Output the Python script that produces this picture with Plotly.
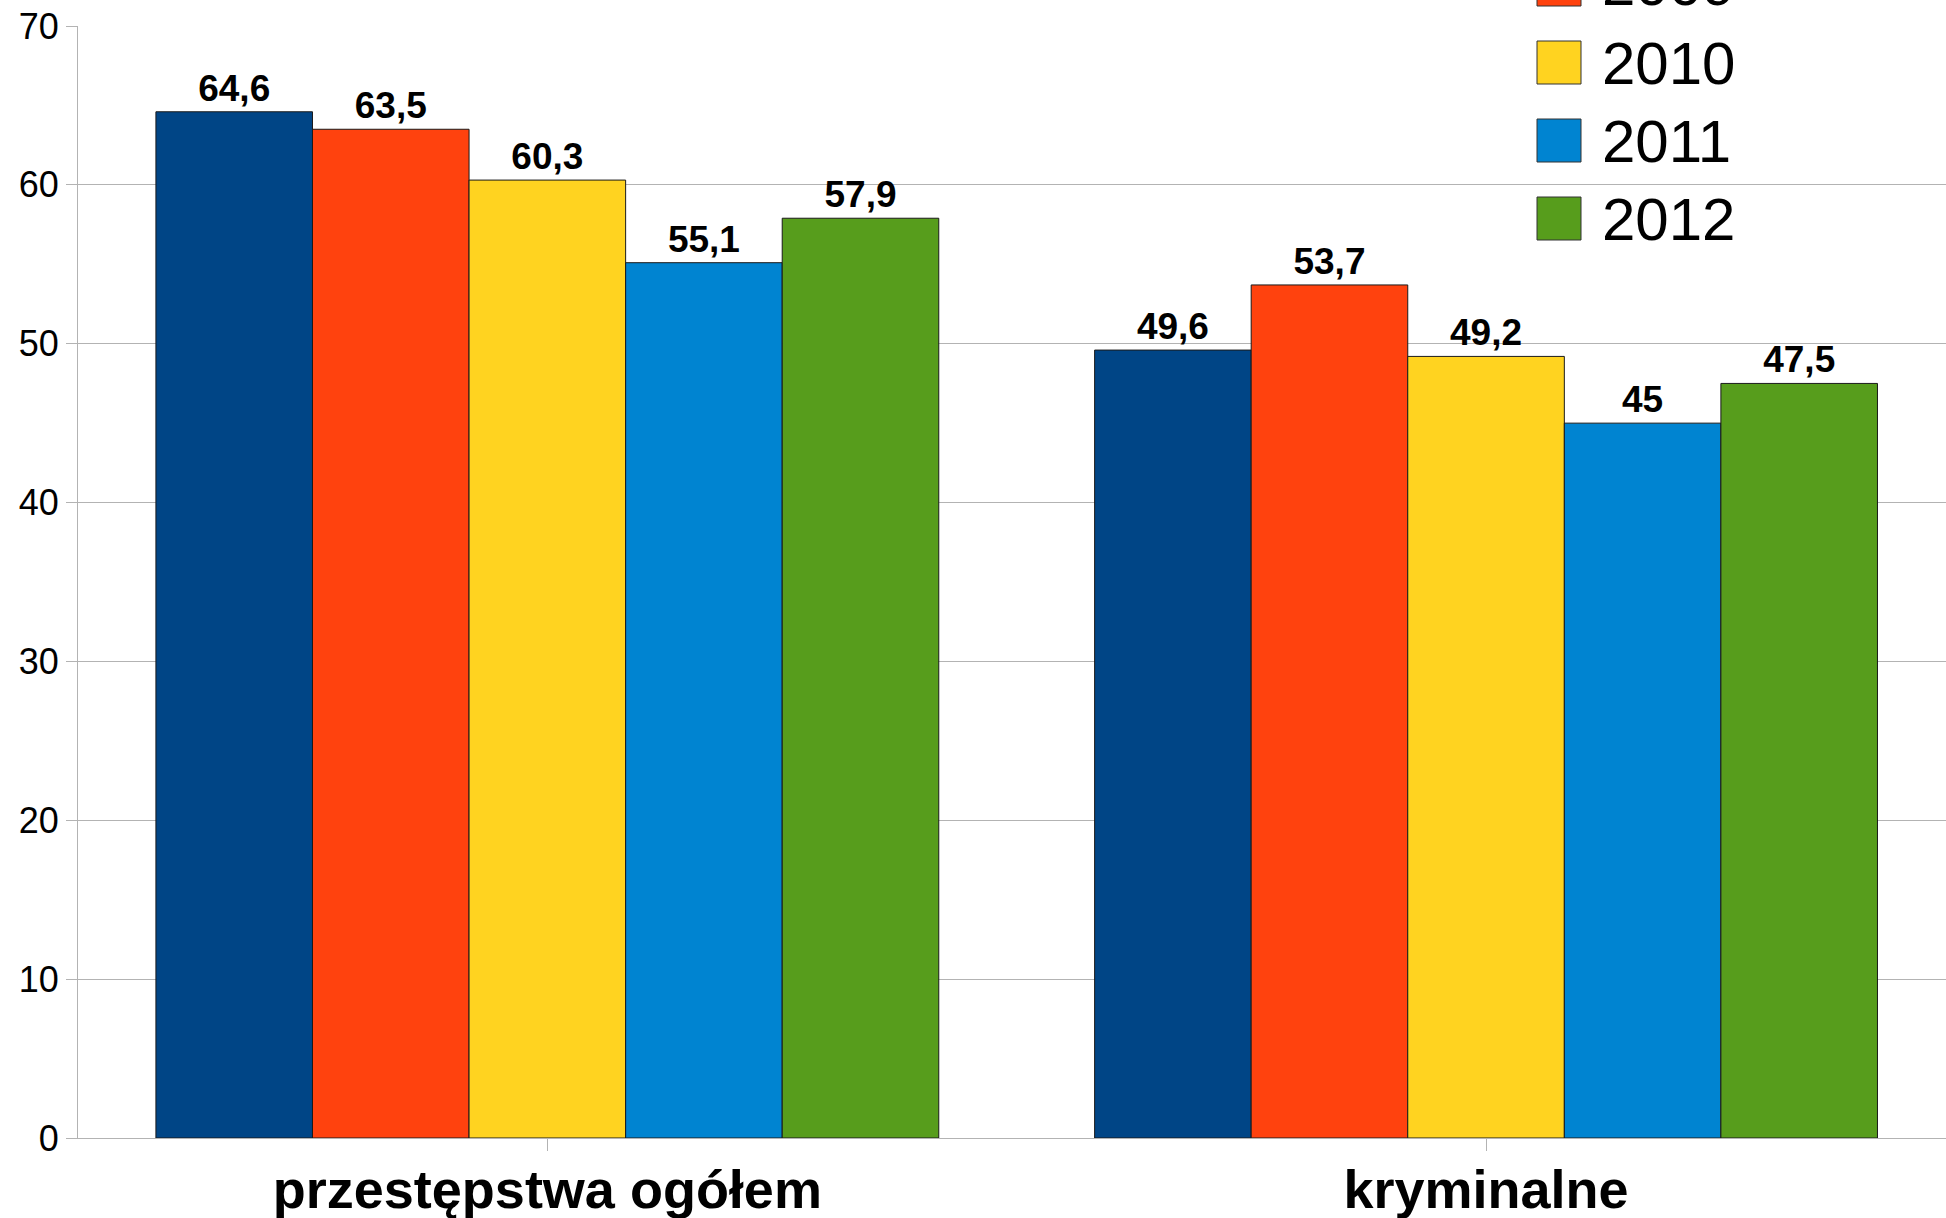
import plotly.graph_objects as go

categories = ["przestępstwa ogółem", "kryminalne"]
years = ["2008", "2009", "2010", "2011", "2012"]
values_2008 = [64.6, 49.6]
values_2009 = [63.5, 53.7]
values_2010 = [60.3, 49.2]
values_2011 = [55.1, 45.0]
values_2012 = [57.9, 47.5]
series = [values_2008, values_2009, values_2010, values_2011, values_2012]
colors = ["#004586", "#ff420e", "#ffd320", "#0084d1", "#579d1c"]

W, H = 1946, 1218
ML, MR, MT, MB = 78, 0, 26, 80
plot_w = W - ML - MR
plot_h = H - MT - MB


def px_x(x):
    return (x - ML) / plot_w


def px_y(y):
    return (H - MB - y) / plot_h


def fmt(v):
    return f"{v:g}".replace(".", ",")


fig = go.Figure()

for year, vals, col in zip(years, series, colors):
    fig.add_trace(go.Bar(
        x=categories,
        y=vals,
        name=year,
        marker=dict(color=col, line=dict(color="#1a1a1a", width=1)),
        text=[fmt(v) for v in vals],
        textposition="outside",
        textfont=dict(size=37, color="black", family="Liberation Sans", weight="bold"),
        constraintext="none",
        cliponaxis=False,
        showlegend=False,
    ))

# legend drawn by hand so the swatches can be as large as in the original
for i, (year, col) in enumerate(zip(years, colors)):
    top = 41 + (i - 2) * 78
    fig.add_shape(
        type="rect", xref="paper", yref="paper",
        x0=px_x(1537), x1=px_x(1581), y0=px_y(top), y1=px_y(top + 43),
        fillcolor=col, line=dict(color="#333333", width=1),
    )
    fig.add_annotation(
        x=px_x(1600), y=px_y(top + 22), xref="paper", yref="paper",
        text=year, showarrow=False, xanchor="left", yanchor="middle",
        font=dict(size=60, color="black", family="Liberation Sans"),
    )

fig.update_layout(
    width=W,
    height=H,
    margin=dict(l=ML, r=MR, t=MT, b=MB, autoexpand=False),
    plot_bgcolor="white",
    paper_bgcolor="white",
    barmode="group",
    bargap=0.166,
    bargroupgap=0,
    font=dict(family="Liberation Sans", color="black"),
    xaxis=dict(
        range=[-0.5, 1.49],
        showline=True,
        linecolor="#b3b3b3",
        linewidth=1,
        ticks="outside",
        ticklen=12,
        tickcolor="#b3b3b3",
        tickfont=dict(size=54, color="black", weight="bold"),
        ticklabelstandoff=-8,
        showgrid=False,
    ),
    yaxis=dict(
        range=[0, 70],
        dtick=10,
        showline=True,
        linecolor="#b3b3b3",
        linewidth=1,
        ticks="outside",
        ticklen=11,
        tickcolor="#b3b3b3",
        tickfont=dict(size=36, color="black"),
        gridcolor="#b3b3b3",
        gridwidth=1,
        zeroline=False,
    ),
)

fig.write_html(
    "out.html",
    config={"displayModeBar": False},
    post_script="document.body.style.margin='0';",
)
